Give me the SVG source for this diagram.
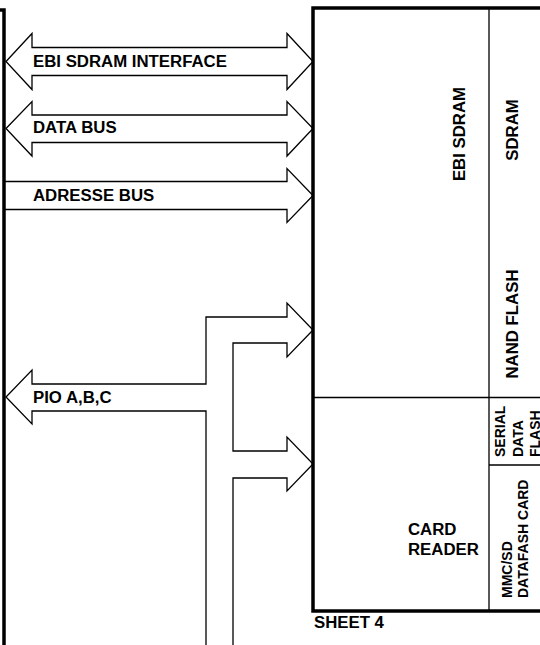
<svg xmlns="http://www.w3.org/2000/svg" width="540" height="645" viewBox="0 0 540 645">
<style>
.bus{fill:none;stroke:#000;stroke-width:1.3;stroke-linejoin:miter}
.thick{fill:none;stroke:#000;stroke-width:3.5}
.thin{fill:none;stroke:#000;stroke-width:1.3}
text{font-family:"Liberation Sans",Arial,Helvetica,sans-serif;font-weight:bold;fill:#000}
.big{font-size:16.8px}
.small{font-size:14px}
</style>
<rect width="540" height="645" fill="#fff"/>
<g id="left-block">
<path class="thick" d="M0,10 L4,10 L4,645"/>
</g>
<g id="sheet4">
<path class="thick" d="M540,8 L313,8 L313,611 L540,611"/>
<path class="thin" d="M489,8 L489,611 M313,397.5 L540,397.5 M489,465 L540,465"/>
<text class="big" transform="translate(465,134) rotate(-90)" text-anchor="middle">EBI SDRAM</text>
<text class="big" transform="translate(518,130) rotate(-90)" text-anchor="middle">SDRAM</text>
<text class="big" transform="translate(518,324) rotate(-90)" text-anchor="middle">NAND FLASH</text>
<text class="small" transform="translate(505,457) rotate(-90)">SERIAL</text>
<text class="small" transform="translate(522.5,457) rotate(-90)">DATA</text>
<text class="small" transform="translate(539.5,457) rotate(-90)">FLASH</text>
<text class="small" transform="translate(511.5,598) rotate(-90)">MMC/SD</text>
<text class="small" transform="translate(527.5,598) rotate(-90)">DATAFASH CARD</text>
<text class="big" x="408" y="535">CARD</text>
<text class="big" x="408" y="555">READER</text>
<text class="big" x="314" y="628">SHEET 4</text>
</g>
<g id="connectors">
<path class="bus" d="M6,61.5 L32,33.5 L32,47.5 L287,47.5 L287,33.5 L313,61.5 L287,89.5 L287,75.5 L32,75.5 L32,89.5 Z"/>
<path class="bus" d="M6,128.5 L32,101.5 L32,115 L287,115 L287,101.5 L313,128.5 L287,156 L287,142.5 L32,142.5 L32,156 Z"/>
<path class="bus" d="M4,181.5 L287,181.5 L287,168.5 L313,195.5 L287,222.5 L287,209.5 L4,209.5"/>
<path class="bus" d="M206,645 L206,411 L32,411 L32,424 L6,397 L32,370 L32,384 L206,384 L206,317 L287,317 L287,303 L313,330 L287,357 L287,343 L233,343 L233,451 L287,451 L287,437 L313,464 L287,491 L287,478 L233,478 L233,645"/>
</g>
<g id="labels">
<text class="big" x="33" y="66.5">EBI SDRAM INTERFACE</text>
<text class="big" x="33" y="133">DATA BUS</text>
<text class="big" x="33" y="201">ADRESSE BUS</text>
<text class="big" x="33" y="402.5">PIO A,B,C</text>
</g>
</svg>
